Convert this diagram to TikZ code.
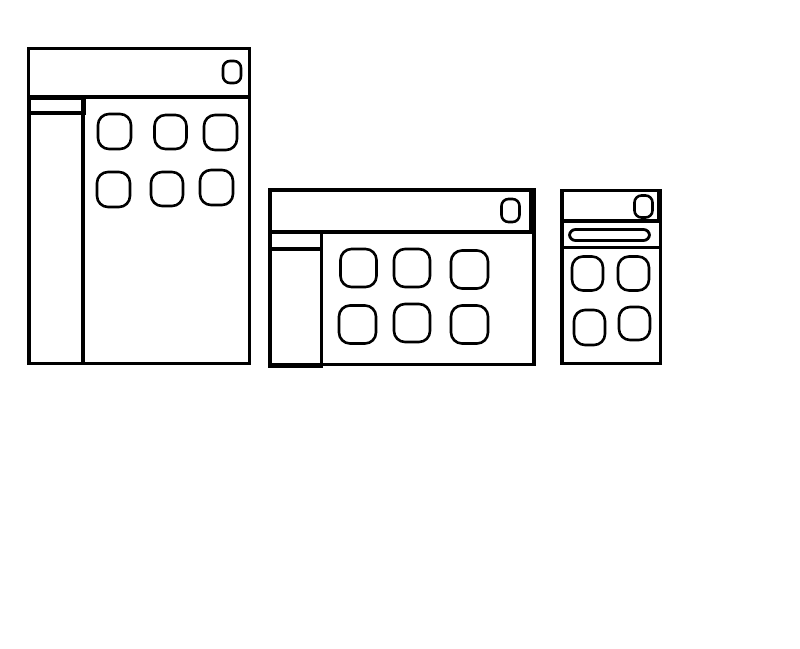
\documentclass[tikz,border=0pt]{standalone}
\usetikzlibrary{positioning}

\begin{document}
\begin{tikzpicture}[
  x=1pt, y=-1pt,
  frame/.style={draw=black, line width=3.2pt},
  bar/.style={draw=black, line width=3.2pt},
  icon/.style={draw=black, line width=2.6pt, rounded corners=11pt, inner sep=0pt},
  btn/.style={draw=black, line width=2.6pt, rounded corners=7pt, inner sep=0pt},
  search/.style={draw=black, line width=2.8pt, rounded corners=6pt},
]
\useasboundingbox (0,0) rectangle (800,648);

% ---------------- DESKTOP (tall) ----------------
\draw[frame] (28.5,48.5) rectangle (249.5,363.5);
\draw[bar] (28.5,97) -- (249.5,97);
\node[btn, minimum width=18pt, minimum height=22pt] (deskBtn) at (232,72) {};
\draw[frame] (29.5,97) rectangle (83,363.5);
\draw[bar] (29.5,98.5) rectangle (84.5,113);
\node[icon, minimum width=33pt, minimum height=35pt] (deskA) at (114.5,131.5) {};
\node[icon, minimum width=32pt, minimum height=34pt] (deskB) at (170.5,132) {};
\node[icon, minimum width=33pt, minimum height=35pt] (deskC) at (220.5,132.5) {};
\node[icon, minimum width=33pt, minimum height=35pt] (deskD) at (113.5,189.5) {};
\node[icon, minimum width=32pt, minimum height=34pt] (deskE) at (167,189) {};
\node[icon, minimum width=33pt, minimum height=35pt] (deskF) at (216.5,187.5) {};

% ---------------- TABLET ----------------
\draw[frame] (270,190) rectangle (534,364.5);
\draw[frame] (270,190) rectangle (531,232);
\node[btn, minimum width=18pt, minimum height=23pt] (tabBtn) at (510.5,210.5) {};
\draw[frame] (270,232) rectangle (321.5,366);
\draw[bar] (270,249) -- (321.5,249);
\node[icon, minimum width=36pt, minimum height=38pt] (tabA) at (358.5,268) {};
\node[icon, minimum width=36pt, minimum height=38pt] (tabB) at (412,268) {};
\node[icon, minimum width=37pt, minimum height=38pt] (tabC) at (469.5,269.5) {};
\node[icon, minimum width=37pt, minimum height=38pt] (tabD) at (357.5,324.5) {};
\node[icon, minimum width=36pt, minimum height=38pt] (tabE) at (412,323) {};
\node[icon, minimum width=37pt, minimum height=38pt] (tabF) at (469.5,324.5) {};

% ---------------- PHONE ----------------
\draw[frame] (562,190.5) rectangle (660.5,363.5);
\draw[frame] (562,190.5) rectangle (659,220.5);
\draw[line width=1.5pt] (562,222) -- (659,222);
\draw[bar] (562,247.5) -- (660.5,247.5);
\node[btn, minimum width=18pt, minimum height=22pt] (phoneBtn) at (643.5,206.5) {};
\draw[search] (569.5,229.5) rectangle (649.5,240.5);
\node[icon, minimum width=31pt, minimum height=34pt] (phoneA) at (587.5,273.5) {};
\node[icon, minimum width=31pt, minimum height=34pt] (phoneB) at (633.5,273.5) {};
\node[icon, minimum width=31pt, minimum height=35pt] (phoneC) at (589.5,327.5) {};
\node[icon, minimum width=31pt, minimum height=33pt] (phoneD) at (634.5,323.5) {};
\end{tikzpicture}
\end{document}
